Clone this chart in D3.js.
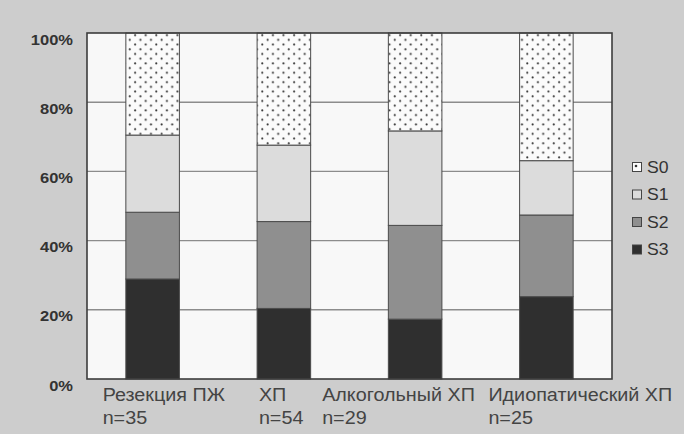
<!DOCTYPE html>
<html><head><meta charset="utf-8">
<script src="https://cdn.jsdelivr.net/npm/d3@7"></script>
<style>html,body{margin:0;padding:0;background:#cdcdcd;}svg{display:block;}</style>
</head><body>
<svg id="chart" width="684" height="434"></svg>
<script>
// ---- data ----
const categories = ["Резекция ПЖ", "ХП", "Алкогольный ХП", "Идиопатический ХП"];
const counts = ["n=35", "n=54", "n=29", "n=25"];
const seriesNames = ["S3", "S2", "S1", "S0"];
const S3 = [28.9, 20.4, 17.3, 23.8];
const S2 = [19.3, 25.1, 27.1, 23.6];
const S1 = [22.3, 22.1, 27.3, 15.7];
const S0 = [29.5, 32.4, 28.3, 36.9];
const yTicks = [0, 20, 40, 60, 80, 100];
const legendOrder = ["S0", "S1", "S2", "S3"];

// ---- layout ----
const svg = d3.select("#chart");
const L = 87, R = 612, T = 33, B = 379;
const labelDx = [-50, -25, -93, -58];
const SX = 1.1;
const FONT = "Liberation Sans, Arial, sans-serif";
const fills = {S3: "#2f2f2f", S2: "#8f8f8f", S1: "#dcdcdc", S0: "url(#dots)"};

const defs = svg.append("defs");
const pat = defs.append("pattern").attr("id", "dots").attr("patternUnits", "userSpaceOnUse")
  .attr("width", 10.6).attr("height", 9.4);
pat.append("rect").attr("width", 10.6).attr("height", 9.4).attr("fill", "#fbfbfb");
pat.append("circle").attr("cx", 2.6).attr("cy", 2.3).attr("r", 1.05).attr("fill", "#333");
pat.append("circle").attr("cx", 7.9).attr("cy", 7.0).attr("r", 1.05).attr("fill", "#333");

const x = d3.scaleBand().domain(categories).range([L, R]).paddingInner(0.592).paddingOuter(0.296);
const y = d3.scaleLinear().domain([0, 100]).range([B, T]);

svg.append("rect").attr("x", 0).attr("y", 0).attr("width", 684).attr("height", 434).attr("fill", "#cdcdcd");
svg.append("rect").attr("x", L).attr("y", T).attr("width", R - L).attr("height", B - T).attr("fill", "#f8f8f8");

// gridlines
svg.append("g").selectAll("line").data(yTicks.slice(1, -1)).join("line")
  .attr("x1", L).attr("x2", R).attr("y1", d => y(d)).attr("y2", d => y(d))
  .attr("stroke", "#8c8c8c").attr("stroke-width", 1.4);

// stacked bars
const table = categories.map((c, i) => ({cat: c, S3: S3[i], S2: S2[i], S1: S1[i], S0: S0[i]}));
const stack = d3.stack().keys(seriesNames)(table);
svg.append("g").selectAll("g").data(stack).join("g")
  .attr("fill", d => fills[d.key])
  .selectAll("rect").data(d => d).join("rect")
  .attr("x", d => x(d.data.cat)).attr("width", x.bandwidth())
  .attr("y", d => y(Math.min(d[1], 100))).attr("height", d => y(d[0]) - y(Math.min(d[1], 100)))
  .attr("stroke", "#4a4a4a").attr("stroke-width", 1);

// plot border
svg.append("rect").attr("x", L).attr("y", T).attr("width", R - L).attr("height", B - T)
  .attr("fill", "none").attr("stroke", "#3c3c3c").attr("stroke-width", 1.6);

// y axis labels
const ya = svg.append("g");
yTicks.forEach(t => {
  ya.append("text").attr("transform", `translate(73,${y(t) + 11.5}) scale(${SX},1)`)
    .attr("text-anchor", "end").attr("font-family", FONT).attr("font-size", 15)
    .attr("font-weight", "bold").attr("fill", "#333").text(t + "%");
});

// x labels
const xl = svg.append("g").attr("font-family", FONT).attr("font-size", 17.5).attr("fill", "#444");
categories.forEach((c, i) => {
  const x0 = x(c) + x.bandwidth() / 2 + labelDx[i];
  xl.append("text").attr("transform", `translate(${x0},401) scale(1.13,1)`).text(c);
  xl.append("text").attr("transform", `translate(${x0},424) scale(1.13,1)`).text(counts[i]);
});

// legend
const lg = svg.append("g").attr("font-family", FONT).attr("font-size", 16).attr("fill", "#333");
legendOrder.forEach((k, i) => {
  const cy = 167 + i * 27.5;
  lg.append("rect").attr("x", 632.5).attr("y", cy - 4.5).attr("width", 9).attr("height", 9)
    .attr("fill", k === "S0" ? "#fbfbfb" : fills[k]).attr("stroke", "#444").attr("stroke-width", 1);
  if (k === "S0") lg.append("circle").attr("cx", 636).attr("cy", cy - 1).attr("r", 1.3).attr("fill", "#333");
  lg.append("text").attr("transform", `translate(647,${cy + 5.5}) scale(${SX},1)`).text(k);
});
</script>
</body></html>
